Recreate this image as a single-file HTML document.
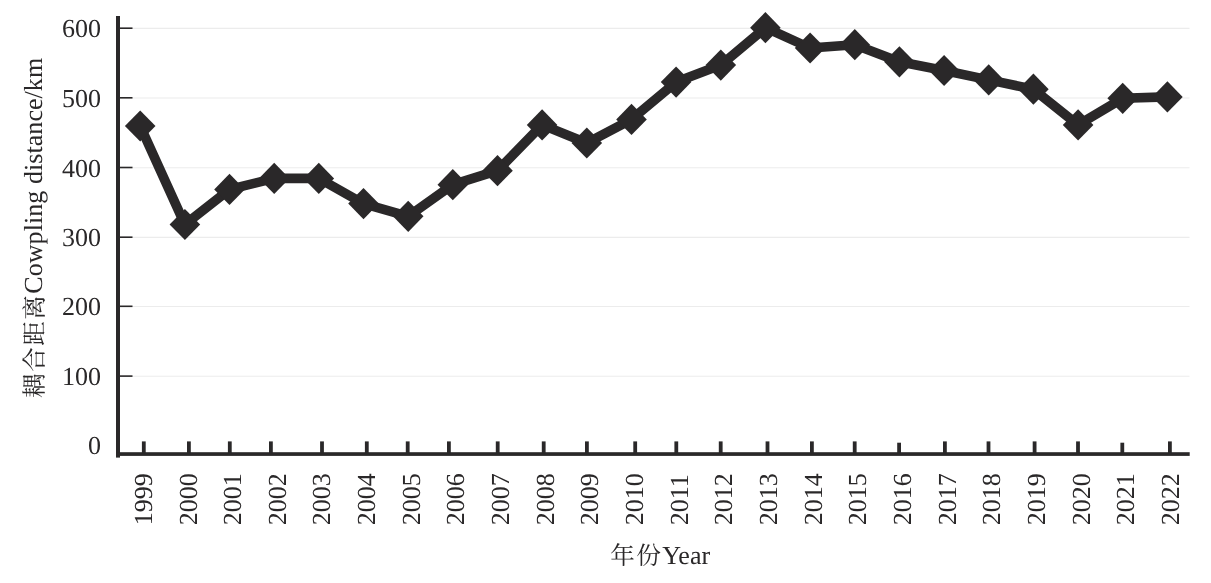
<!DOCTYPE html><html><head><meta charset="utf-8"><title>Coupling distance</title><style>html,body{margin:0;padding:0;background:#fff}svg{display:block}text{text-rendering:geometricPrecision;font-family:"Liberation Serif","Noto Serif CJK SC",serif;fill:#2a2829}</style></head><body>
<svg width="1211" height="583" viewBox="0 0 1211 583">
<rect width="1211" height="583" fill="#fff"/>
<line x1="120" y1="28.4" x2="1189.5" y2="28.4" stroke="#ececec" stroke-width="1.1"/>
<line x1="120" y1="98.0" x2="1189.5" y2="98.0" stroke="#ececec" stroke-width="1.1"/>
<line x1="120" y1="167.7" x2="1189.5" y2="167.7" stroke="#ececec" stroke-width="1.1"/>
<line x1="120" y1="237.4" x2="1189.5" y2="237.4" stroke="#ececec" stroke-width="1.1"/>
<line x1="120" y1="306.5" x2="1189.5" y2="306.5" stroke="#ececec" stroke-width="1.1"/>
<line x1="120" y1="376.3" x2="1189.5" y2="376.3" stroke="#ececec" stroke-width="1.1"/>
<line x1="119" y1="28.2" x2="132.5" y2="28.2" stroke="#2a2829" stroke-width="1.6"/>
<line x1="119" y1="97.8" x2="132.5" y2="97.8" stroke="#2a2829" stroke-width="1.6"/>
<line x1="119" y1="167.5" x2="132.5" y2="167.5" stroke="#2a2829" stroke-width="1.6"/>
<line x1="119" y1="237.20000000000002" x2="132.5" y2="237.20000000000002" stroke="#2a2829" stroke-width="1.6"/>
<line x1="119" y1="306.3" x2="132.5" y2="306.3" stroke="#2a2829" stroke-width="1.6"/>
<line x1="119" y1="376.1" x2="132.5" y2="376.1" stroke="#2a2829" stroke-width="1.6"/>
<rect x="116" y="16" width="4" height="441.6" fill="#2a2829"/>
<rect x="116" y="452.2" width="1073.7" height="3.7" fill="#2a2829"/>
<rect x="141.9" y="441.4" width="3.8" height="12.0" fill="#2a2829"/>
<rect x="187.0" y="441.4" width="3.8" height="12.0" fill="#2a2829"/>
<rect x="227.9" y="441.4" width="3.8" height="12.0" fill="#2a2829"/>
<rect x="269.0" y="441.4" width="3.8" height="12.0" fill="#2a2829"/>
<rect x="320.1" y="441.4" width="3.8" height="12.0" fill="#2a2829"/>
<rect x="364.9" y="441.4" width="3.8" height="12.0" fill="#2a2829"/>
<rect x="405.8" y="441.4" width="3.8" height="12.0" fill="#2a2829"/>
<rect x="447.0" y="441.4" width="3.8" height="12.0" fill="#2a2829"/>
<rect x="495.8" y="441.4" width="3.8" height="12.0" fill="#2a2829"/>
<rect x="541.8" y="441.4" width="3.8" height="12.0" fill="#2a2829"/>
<rect x="585.0" y="441.4" width="3.8" height="12.0" fill="#2a2829"/>
<rect x="633.3" y="441.4" width="3.8" height="12.0" fill="#2a2829"/>
<rect x="674.4" y="441.4" width="3.8" height="12.0" fill="#2a2829"/>
<rect x="718.8" y="441.4" width="3.8" height="12.0" fill="#2a2829"/>
<rect x="765.6" y="441.4" width="3.8" height="12.0" fill="#2a2829"/>
<rect x="810.0" y="441.4" width="3.8" height="12.0" fill="#2a2829"/>
<rect x="852.8" y="441.4" width="3.8" height="12.0" fill="#2a2829"/>
<rect x="897.2" y="442.7" width="3.8" height="10.7" fill="#2a2829"/>
<rect x="943.0" y="441.4" width="3.8" height="12.0" fill="#2a2829"/>
<rect x="986.6" y="441.4" width="3.8" height="12.0" fill="#2a2829"/>
<rect x="1032.7" y="441.4" width="3.8" height="12.0" fill="#2a2829"/>
<rect x="1076.1" y="441.4" width="3.8" height="12.0" fill="#2a2829"/>
<rect x="1120.4" y="442.7" width="3.8" height="10.7" fill="#2a2829"/>
<rect x="1168.0" y="441.4" width="3.8" height="12.0" fill="#2a2829"/>
<polyline points="140.2,126.0 184.9,224.5 229.5,189.4 274.2,178.4 318.8,178.4 363.5,203.6 408.2,216.3 452.8,184.7 497.5,170.7 542.1,124.9 586.8,143.0 631.5,119.4 676.1,82.1 720.8,65.1 765.4,27.7 810.1,48.0 854.8,44.7 899.4,61.8 944.1,70.5 988.7,79.9 1033.4,89.2 1078.1,124.9 1122.7,98.3 1167.4,96.9" fill="none" stroke="#2a2829" stroke-width="9.6" stroke-linejoin="round"/>
<polygon points="124.9,126.0 140.2,110.4 155.5,126.0 140.2,141.6" fill="#2a2829"/>
<polygon points="169.6,224.5 184.9,208.9 200.2,224.5 184.9,240.1" fill="#2a2829"/>
<polygon points="214.2,189.4 229.5,173.8 244.8,189.4 229.5,205.0" fill="#2a2829"/>
<polygon points="258.9,178.4 274.2,162.8 289.5,178.4 274.2,194.0" fill="#2a2829"/>
<polygon points="303.5,178.4 318.8,162.8 334.1,178.4 318.8,194.0" fill="#2a2829"/>
<polygon points="348.2,203.6 363.5,188.0 378.8,203.6 363.5,219.2" fill="#2a2829"/>
<polygon points="392.9,216.3 408.2,200.7 423.5,216.3 408.2,231.9" fill="#2a2829"/>
<polygon points="437.5,184.7 452.8,169.1 468.1,184.7 452.8,200.3" fill="#2a2829"/>
<polygon points="482.2,170.7 497.5,155.1 512.8,170.7 497.5,186.3" fill="#2a2829"/>
<polygon points="526.8,124.9 542.1,109.3 557.4,124.9 542.1,140.5" fill="#2a2829"/>
<polygon points="571.5,143.0 586.8,127.4 602.1,143.0 586.8,158.6" fill="#2a2829"/>
<polygon points="616.2,119.4 631.5,103.8 646.8,119.4 631.5,135.0" fill="#2a2829"/>
<polygon points="660.8,82.1 676.1,66.5 691.4,82.1 676.1,97.7" fill="#2a2829"/>
<polygon points="705.5,65.1 720.8,49.5 736.1,65.1 720.8,80.7" fill="#2a2829"/>
<polygon points="750.1,27.7 765.4,12.1 780.7,27.7 765.4,43.3" fill="#2a2829"/>
<polygon points="794.8,48.0 810.1,32.4 825.4,48.0 810.1,63.6" fill="#2a2829"/>
<polygon points="839.5,44.7 854.8,29.1 870.1,44.7 854.8,60.3" fill="#2a2829"/>
<polygon points="884.1,61.8 899.4,46.2 914.7,61.8 899.4,77.4" fill="#2a2829"/>
<polygon points="928.8,70.5 944.1,54.9 959.4,70.5 944.1,86.1" fill="#2a2829"/>
<polygon points="973.4,79.9 988.7,64.3 1004.0,79.9 988.7,95.5" fill="#2a2829"/>
<polygon points="1018.1,89.2 1033.4,73.6 1048.7,89.2 1033.4,104.8" fill="#2a2829"/>
<polygon points="1062.8,124.9 1078.1,109.3 1093.4,124.9 1078.1,140.5" fill="#2a2829"/>
<polygon points="1107.4,98.3 1122.7,82.7 1138.0,98.3 1122.7,113.9" fill="#2a2829"/>
<polygon points="1152.1,96.9 1167.4,81.3 1182.7,96.9 1167.4,112.5" fill="#2a2829"/>
<text x="101" y="37.2" font-size="26" text-anchor="end">600</text>
<text x="101" y="106.8" font-size="26" text-anchor="end">500</text>
<text x="101" y="176.5" font-size="26" text-anchor="end">400</text>
<text x="101" y="246.2" font-size="26" text-anchor="end">300</text>
<text x="101" y="315.3" font-size="26" text-anchor="end">200</text>
<text x="101" y="385.1" font-size="26" text-anchor="end">100</text>
<text x="101" y="454.3" font-size="26" text-anchor="end">0</text>
<text transform="translate(151.8,525.3) rotate(-90)" font-size="26">1999</text>
<text transform="translate(196.5,525.3) rotate(-90)" font-size="26">2000</text>
<text transform="translate(241.1,525.3) rotate(-90)" font-size="26">2001</text>
<text transform="translate(285.8,525.3) rotate(-90)" font-size="26">2002</text>
<text transform="translate(330.4,525.3) rotate(-90)" font-size="26">2003</text>
<text transform="translate(375.1,525.3) rotate(-90)" font-size="26">2004</text>
<text transform="translate(419.8,525.3) rotate(-90)" font-size="26">2005</text>
<text transform="translate(464.4,525.3) rotate(-90)" font-size="26">2006</text>
<text transform="translate(509.1,525.3) rotate(-90)" font-size="26">2007</text>
<text transform="translate(553.7,525.3) rotate(-90)" font-size="26">2008</text>
<text transform="translate(598.4,525.3) rotate(-90)" font-size="26">2009</text>
<text transform="translate(643.1,525.3) rotate(-90)" font-size="26">2010</text>
<text transform="translate(687.7,525.3) rotate(-90)" font-size="26">2011</text>
<text transform="translate(732.4,525.3) rotate(-90)" font-size="26">2012</text>
<text transform="translate(777.0,525.3) rotate(-90)" font-size="26">2013</text>
<text transform="translate(821.7,525.3) rotate(-90)" font-size="26">2014</text>
<text transform="translate(866.4,525.3) rotate(-90)" font-size="26">2015</text>
<text transform="translate(911.0,525.3) rotate(-90)" font-size="26">2016</text>
<text transform="translate(955.7,525.3) rotate(-90)" font-size="26">2017</text>
<text transform="translate(1000.3,525.3) rotate(-90)" font-size="26">2018</text>
<text transform="translate(1045.0,525.3) rotate(-90)" font-size="26">2019</text>
<text transform="translate(1089.7,525.3) rotate(-90)" font-size="26">2020</text>
<text transform="translate(1134.3,525.3) rotate(-90)" font-size="26">2021</text>
<text transform="translate(1179.0,525.3) rotate(-90)" font-size="26">2022</text>
<text transform="translate(42.2,398.3) rotate(-90)" font-size="26" letter-spacing="0.06"><tspan font-size="24.6" letter-spacing="1.46" dx="0.4" dy="0.6">耦合距离</tspan><tspan dy="-0.6">Cowpling distance/km</tspan></text>
<text x="609.8" y="563.6" font-size="26"><tspan font-size="24.6" letter-spacing="1.4" dx="0.4" dy="0.5">年份</tspan><tspan dy="-0.5">Year</tspan></text>
</svg></body></html>
